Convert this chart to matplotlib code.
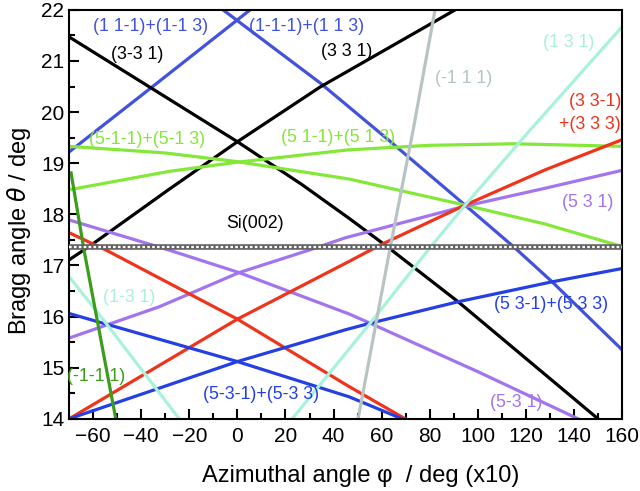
import numpy as np
import matplotlib
matplotlib.use("Agg")
import matplotlib.pyplot as plt
from matplotlib.ticker import MultipleLocator

plt.rcParams['font.family'] = ['Liberation Sans', 'DejaVu Sans']

# -------------------------------------------------------------
# Data (azimuth x10, Bragg angle in deg)
# -------------------------------------------------------------
blue_up_x = [-70, -35.5, 5.3]
blue_up_y = [19.22, 20.49, 22.0]
blue_dn_x = [-6, 34.4, 62.7, 94.7, 115.5, 130.9, 160]
blue_dn_y = [22.0, 20.57, 19.46, 18.18, 17.34, 16.68, 15.35]

black_dn_x = [-70, 0, 26.9, 46.5, 61.4, 91.8, 150]
black_dn_y = [21.47, 19.42, 18.58, 17.92, 17.40, 16.29, 14.0]
black_up_x = [-70, -61.7, -28.4, 0, 34.4, 90.6]
black_up_y = [17.11, 17.37, 18.49, 19.42, 20.49, 22.0]

green_dn_x = [-70, -30, 0, 46.5, 94.7, 128, 160]
green_dn_y = [19.33, 19.20, 19.03, 18.69, 18.18, 17.81, 17.37]
green_up_x = [-70, -28.4, 0, 46, 80, 115, 160]
green_up_y = [18.48, 18.84, 19.02, 19.26, 19.35, 19.38, 19.33]

dkgreen_x = [-69.2, -63.8, -50.6]
dkgreen_y = [18.81, 17.30, 14.0]

purple_up_x = [-70, -32.6, 0.7, 29.8, 44.8, 94.7, 128, 160]
purple_up_y = [15.58, 16.19, 16.86, 17.30, 17.54, 18.16, 18.51, 18.86]
purple_dn_x = [-70, -28.4, 0.7, 46.5, 55.2, 100.1, 141.7]
purple_dn_y = [17.89, 17.30, 16.86, 16.05, 15.87, 14.92, 14.0]

red_up_x = [-70, 0, 46.5, 59.4, 94.7, 128, 160]
red_up_y = [14.0, 15.95, 17.08, 17.40, 18.18, 18.87, 19.46]
red_dn_x = [-70, -54.6, 0, 46.5, 69.8]
red_dn_y = [17.64, 17.30, 15.95, 14.63, 14.0]

blue2_dn_x = [-70, 0, 46.5, 68.5]
blue2_dn_y = [16.06, 15.12, 14.43, 14.0]
blue2_up_x = [-70, 0, 44.8, 55.2, 91.8, 130.9, 160]
blue2_up_y = [14.0, 15.12, 15.74, 15.87, 16.29, 16.68, 16.94]

cyan_dn_x = [-70, -56.3, -24.2]
cyan_dn_y = [16.78, 15.97, 14.0]
cyan_up_x = [22.8, 55.2, 79.3, 94.7, 121.8, 160]
cyan_up_y = [14.0, 15.87, 17.30, 18.18, 19.65, 21.67]

grey_x = [50.2, 63.5, 73.1, 82.2]
grey_y = [14.0, 17.34, 19.65, 22.0]

si002_y = 17.37

# colours
c_blue = '#2440e4'
c_blue_top = '#4252dc'
c_green = '#84e838'
c_dkgreen = '#3c9c1c'
c_red = '#f0341c'
c_purple = '#a274ee'
c_cyan = '#a8f2dc'
c_grey = '#b8c4c4'

fig, ax = plt.subplots(figsize=(6.4, 4.91), dpi=100)
fig.subplots_adjust(left=0.108, right=0.972, top=0.980, bottom=0.147)

lw = 2.3
ax.plot(blue_up_x, blue_up_y, color=c_blue_top, lw=lw)
ax.plot(blue_dn_x, blue_dn_y, color=c_blue_top, lw=lw)
ax.plot(black_dn_x, black_dn_y, color='black', lw=lw)
ax.plot(black_up_x, black_up_y, color='black', lw=lw)
ax.plot(green_dn_x, green_dn_y, color=c_green, lw=lw)
ax.plot(green_up_x, green_up_y, color=c_green, lw=lw)
ax.plot(purple_up_x, purple_up_y, color=c_purple, lw=lw)
ax.plot(purple_dn_x, purple_dn_y, color=c_purple, lw=lw)
ax.plot(red_up_x, red_up_y, color=c_red, lw=lw)
ax.plot(red_dn_x, red_dn_y, color=c_red, lw=lw)
ax.plot(blue2_dn_x, blue2_dn_y, color=c_blue, lw=lw)
ax.plot(blue2_up_x, blue2_up_y, color=c_blue, lw=lw)
ax.plot(cyan_dn_x, cyan_dn_y, color=c_cyan, lw=lw)
ax.plot(cyan_up_x, cyan_up_y, color=c_cyan, lw=lw)
ax.plot(grey_x, grey_y, color=c_grey, lw=lw)
ax.plot(dkgreen_x, dkgreen_y, color=c_dkgreen, lw=lw)

# Si(002) band
ax.axhline(si002_y, color='#606060', lw=4.0, zorder=5)
ax.axhline(si002_y, color='white', lw=1.6, dashes=(1.2, 1.0), zorder=6)

fs = 12.8
txt = [
    (-36.3, 21.67, '(1 1-1)+(1-1 3)', c_blue_top, 'center'),
    (28.6, 21.67, '(1-1-1)+(1 1 3)', c_blue_top, 'center'),
    (-41.7, 21.12, '(3-3 1)', 'black', 'center'),
    (45.6, 21.18, '(3 3 1)', 'black', 'center'),
    (93.9, 20.65, '(-1 1 1)', c_grey, 'center'),
    (137.6, 21.37, '(1 3 1)', c_cyan, 'center'),
    (159.5, 20.2, '(3 3-1)', c_red, 'right'),
    (159.5, 19.75, '+(3 3 3)', c_red, 'right'),
    (41.9, 19.51, '(5 1-1)+(5 1 3)', c_green, 'center'),
    (-37.6, 19.46, '(5-1-1)+(5-1 3)', c_green, 'center'),
    (7.4, 17.83, 'Si(002)', 'black', 'center'),
    (145.5, 18.24, '(5 3 1)', c_purple, 'center'),
    (9.9, 14.47, '(5-3-1)+(5-3 3)', c_blue, 'center'),
    (130.5, 16.23, '(5 3-1)+(5 3 3)', c_blue, 'center'),
    (116.0, 14.31, '(5-3 1)', c_purple, 'center'),
    (-58.8, 14.82, '(-1-1 1)', c_dkgreen, 'center'),
]
for x, y, s, c, ha in txt:
    ax.text(x, y, s, color=c, fontsize=fs, ha=ha, va='center', zorder=7)
ax.text(-45.0, 16.38, '(1-3 1)', color=c_cyan, fontsize=fs, ha='center', va='center',
        zorder=7, bbox=dict(facecolor='white', edgecolor='none', pad=0.5))

ax.set_xlim(-70, 160)
ax.set_ylim(14, 22)
ax.xaxis.set_major_locator(MultipleLocator(20))
ax.xaxis.set_minor_locator(MultipleLocator(10))
ax.yaxis.set_major_locator(MultipleLocator(1))
ax.yaxis.set_minor_locator(MultipleLocator(0.5))
ax.tick_params(which='both', direction='in', width=1.5, labelsize=15)
ax.tick_params(which='major', length=7)
ax.tick_params(which='minor', length=4)
ax.tick_params(axis='x', pad=6)
for sp in ax.spines.values():
    sp.set_linewidth(1.5)

ax.set_xlabel('Azimuthal angle φ  / deg (x10)', fontsize=17)
ax.set_ylabel(r'Bragg angle $\theta$ / deg', fontsize=17)
ax.xaxis.set_label_coords(0.528, -0.112)
ax.yaxis.set_label_coords(-0.066, 0.46)

plt.savefig('out.png', dpi=100)
